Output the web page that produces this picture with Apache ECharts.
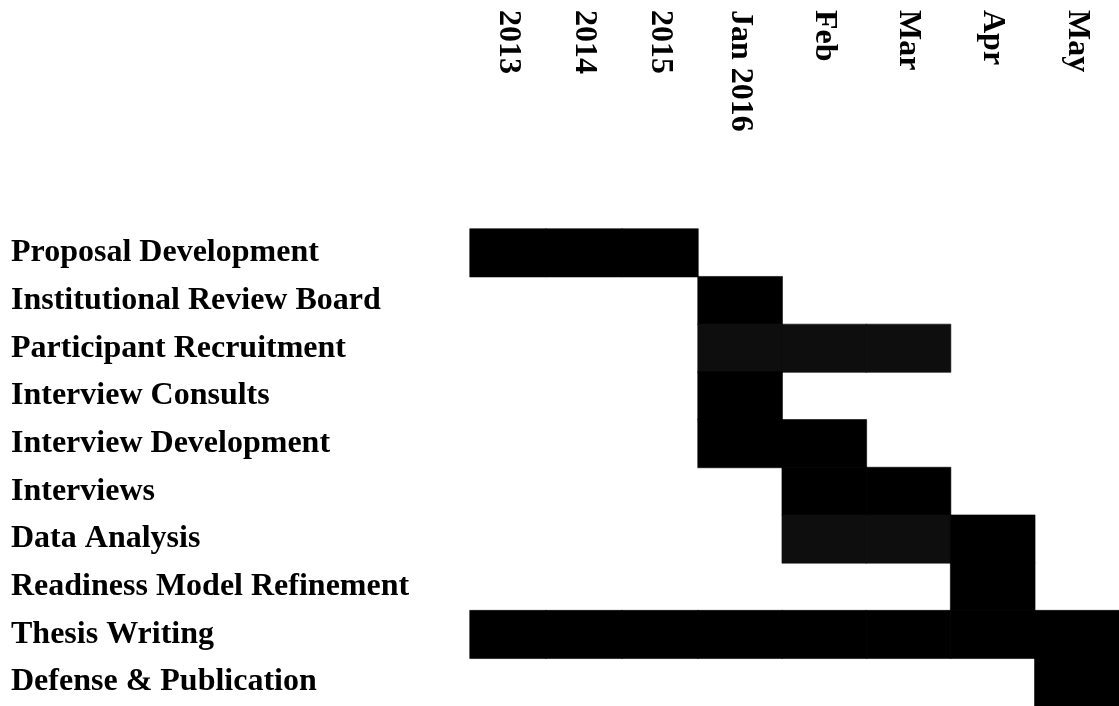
<!DOCTYPE html>
<html>
<head>
<meta charset="utf-8">
<script src="https://cdn.jsdelivr.net/npm/echarts@6/dist/echarts.min.js"></script>
<style>
html,body{margin:0;padding:0;background:#fff;}
#chart{width:1119px;height:706px;}
</style>
</head>
<body>
<div id="chart"></div>
<script>
// Column labels
var years = ['2013', '2014', '2015'];
var months = ['Jan 2016', 'Feb', 'Mar', 'Apr', 'May'];
// Task rows
var tasks = [
  'Proposal Development',
  'Institutional Review Board',
  'Participant Recruitment',
  'Interview Consults',
  'Interview Development',
  'Interviews',
  'Data Analysis',
  'Readiness Model Refinement',
  'Thesis Writing',
  'Defense & Publication'
];
// Cell status per task: columns 2013,2014,2015,Jan,Feb,Mar,Apr,May
// 0 = none, 1 = active (black), 2 = active (dark grey)
var proposalDevelopment   = [1,1,1,0,0,0,0,0];
var institutionalReview   = [0,0,0,1,0,0,0,0];
var participantRecruit    = [0,0,0,2,2,2,0,0];
var interviewConsults     = [0,0,0,1,0,0,0,0];
var interviewDevelopment  = [0,0,0,1,1,0,0,0];
var interviews            = [0,0,0,0,1,1,0,0];
var dataAnalysis          = [0,0,0,0,2,2,1,0];
var readinessRefinement   = [0,0,0,0,0,0,1,0];
var thesisWriting         = [1,1,1,1,1,1,1,1];
var defensePublication    = [0,0,0,0,0,0,0,1];

var statusColors = {1: '#000000', 2: '#0e0e0e'};

var rows = [proposalDevelopment, institutionalReview, participantRecruit, interviewConsults,
  interviewDevelopment, interviews, dataAnalysis, readinessRefinement, thesisWriting, defensePublication];

var yearData = [], monthData = [];
rows.forEach(function (r, ti) {
  r.forEach(function (v, ci) {
    if (!v) return;
    var c = statusColors[v];
    var item = {value: ci < years.length ? [ci, ti, v] : [ci - years.length, ti, v],
      itemStyle: {color: c, borderColor: c, borderWidth: 0.6}};
    if (ci < years.length) yearData.push(item);
    else monthData.push(item);
  });
});

var FONT = '"Liberation Serif", "Times New Roman", serif';
var labelStyle = {fontFamily: FONT, fontSize: 32, fontWeight: 'bold', color: '#000'};

var xLabel = Object.assign({
  rotate: 90, align: 'left', verticalAlign: 'middle', margin: 219, interval: 0, hideOverlap: false
}, labelStyle);

var chart = echarts.init(document.getElementById('chart'), null, {renderer: 'canvas'});
chart.setOption({
  backgroundColor: '#ffffff',
  animation: false,
  grid: [
    {left: 470, width: 228, top: 229, bottom: 0, containLabel: false, outerBoundsMode: 'none'},
    {left: 698, right: 0, top: 229, bottom: 0, containLabel: false, outerBoundsMode: 'none'}
  ],
  xAxis: [
    {type: 'category', gridIndex: 0, position: 'top', data: years,
     axisLine: {show: false}, axisTick: {show: false}, splitLine: {show: false},
     axisLabel: xLabel},
    {type: 'category', gridIndex: 1, position: 'top', data: months,
     axisLine: {show: false}, axisTick: {show: false}, splitLine: {show: false},
     axisLabel: xLabel}
  ],
  yAxis: [
    {type: 'category', gridIndex: 0, inverse: true, data: tasks,
     axisLine: {show: false}, axisTick: {show: false}, splitLine: {show: false},
     axisLabel: Object.assign({align: 'left', margin: 459, interval: 0, hideOverlap: false,
       padding: [6, 0, 0, 0]}, labelStyle)},
    {type: 'category', gridIndex: 1, inverse: true, data: tasks, show: false}
  ],
  series: [
    {type: 'heatmap', xAxisIndex: 0, yAxisIndex: 0, data: yearData, emphasis: {disabled: true}},
    {type: 'heatmap', xAxisIndex: 1, yAxisIndex: 1, data: monthData, emphasis: {disabled: true}}
  ]
});
</script>
</body>
</html>
